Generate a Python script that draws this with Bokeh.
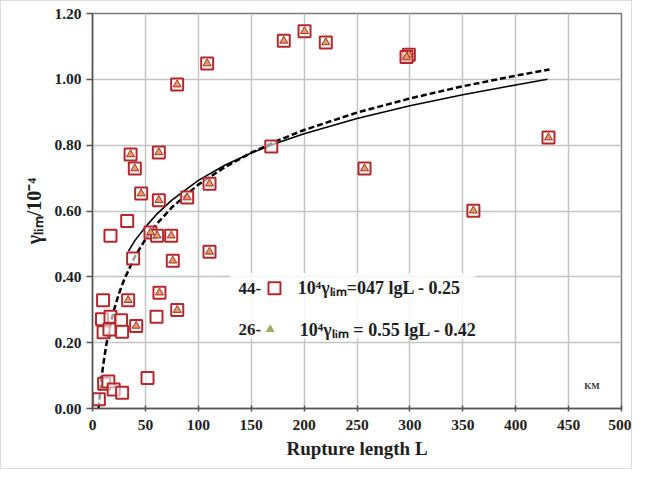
from bokeh.plotting import figure
from bokeh.models import Label, Range1d, FixedTicker, BoxAnnotation
from bokeh.embed import file_html
from bokeh.resources import INLINE

# ---- data ----
# series "44" : all squares (L, gamma_lim/1e-4)
sq_L = [6, 11, 15, 20, 28, 52,
        9, 17, 27, 10.5, 16, 28,
        10, 60.5, 38.4, 17, 32.8, 169,
        36, 62.7, 40, 46, 62.7, 54.8, 61.1, 74.4, 75.9, 110.6, 89.5, 110.6,
        33.7, 63.3, 80.1, 41.3, 108.4, 80, 180.8, 200.4, 220.5, 299, 296.8,
        257.1, 431, 360]
sq_y = [0.028, 0.075, 0.082, 0.058, 0.048, 0.093,
        0.271, 0.279, 0.268, 0.232, 0.240, 0.233,
        0.329, 0.279, 0.456, 0.525, 0.570, 0.796,
        0.772, 0.778, 0.729, 0.653, 0.633, 0.535, 0.525, 0.525, 0.449, 0.476, 0.641, 0.683,
        0.329, 0.352, 0.299, 0.251, 1.048, 0.984, 1.117, 1.146, 1.112, 1.075, 1.068,
        0.729, 0.823, 0.601]
# series "26" : triangles
tri_L = [36, 62.7, 40, 46, 62.7, 54.8, 61.1, 74.4, 75.9, 110.6, 89.5, 110.6,
         33.7, 63.3, 80.1, 41.3, 108.4, 80, 180.8, 200.4, 220.5, 299, 296.8,
         257.1, 431, 360]
tri_y = [0.772, 0.778, 0.729, 0.653, 0.633, 0.535, 0.525, 0.525, 0.449, 0.476, 0.641, 0.683,
         0.329, 0.352, 0.299, 0.251, 1.048, 0.984, 1.117, 1.146, 1.112, 1.075, 1.068,
         0.729, 0.823, 0.601]

# fitted curves
fit44_L = [34, 40, 50, 60, 75, 100, 125, 150, 175, 200, 250, 300, 350, 400, 430]
fit44_y = [0.478, 0.510, 0.551, 0.588, 0.633, 0.693, 0.739, 0.776, 0.807, 0.835, 0.881,
           0.920, 0.953, 0.983, 1.000]
fit26_L = [5.7, 8, 10, 13, 16, 20, 25, 30, 40, 50, 60, 75, 100, 125, 150, 175, 200, 250,
           300, 350, 400, 432]
fit26_y = [0.0, 0.077, 0.130, 0.193, 0.242, 0.296, 0.349, 0.392, 0.461, 0.514, 0.558,
           0.611, 0.680, 0.733, 0.777, 0.814, 0.846, 0.899, 0.942, 0.979, 1.011, 1.030]

x_ticks = [0, 50, 100, 150, 200, 250, 300, 350, 400, 450, 500]
y_ticks = [0.0, 0.2, 0.4, 0.6, 0.8, 1.0, 1.2]
y_tick_labels = ["0.00", "0.20", "0.40", "0.60", "0.80", "1.00", "1.20"]

legend_counts = ["44-", "26-"]
legend_texts = ["10\u2074\u03b3\u2097\u1d62\u2098=047 lgL - 0.25",
                "10\u2074\u03b3\u2097\u1d62\u2098 = 0.55 lgL - 0.42"]

FONT = "Liberation Serif"
RED = "#b3282d"

p = figure(width=632, height=469, x_range=Range1d(0, 500), y_range=Range1d(0, 1.2),
           output_backend="svg", toolbar_location=None,
           min_border_left=91, min_border_right=12, min_border_top=12, min_border_bottom=62)
p.styles = {"border": "1px solid #dcdcdc"}
p.background_fill_color = "white"
p.border_fill_color = "white"
p.outline_line_color = "#7a7a7a"
p.outline_line_width = 1.5

p.xaxis.ticker = FixedTicker(ticks=x_ticks)
p.yaxis.ticker = FixedTicker(ticks=y_ticks)
p.yaxis.major_label_overrides = {t: l for t, l in zip(y_ticks, y_tick_labels)}
for ax in (p.xaxis[0], p.yaxis[0]):
    ax.major_label_text_font = FONT
    ax.major_label_text_font_style = "bold"
    ax.major_label_text_font_size = "15.5px"
    ax.major_label_text_color = "#1e1e1e"
    ax.axis_label_text_font = FONT
    ax.axis_label_text_font_style = "bold"
    ax.axis_label_text_font_size = "19px"
    ax.axis_label_text_color = "#1e1e1e"
    ax.axis_line_color = "#555555"
    ax.axis_line_width = 1.5
    ax.major_tick_line_color = "#555555"
    ax.major_tick_line_width = 1.5
    ax.minor_tick_line_color = None
p.yaxis.axis_label_text_font_size = "20px"
p.xaxis.major_tick_in = 3
p.xaxis.major_tick_out = 3
p.yaxis.major_tick_in = 0
p.yaxis.major_tick_out = 6
p.xaxis.major_label_standoff = 8
p.yaxis.major_label_standoff = 5
p.xaxis.axis_label = "Rupture length L"
p.yaxis.axis_label = "\u03b3\u2097\u1d62\u2098/10\u207b\u2074"
p.xaxis.axis_label_standoff = 5
p.yaxis.axis_label_standoff = 6

p.xgrid.grid_line_color = "#c4c4c4"
p.ygrid.grid_line_color = "#c4c4c4"
p.xgrid.grid_line_width = 1.5
p.ygrid.grid_line_width = 1.5

# legend background
p.add_layout(BoxAnnotation(left=130, right=362, bottom=0.212, top=0.412,
                           fill_color="white", fill_alpha=0.85, line_color=None,
                           level="underlay"))

# curves
p.line(fit26_L, fit26_y, line_color="black", line_width=2.5, line_dash="6 3")
p.line(fit44_L, fit44_y, line_color="black", line_width=1.6)

# points
p.scatter(sq_L, sq_y, marker="square", size=12, line_color=RED, line_width=2,
          fill_color="white", fill_alpha=0.6)
p.scatter(tri_L, tri_y, marker="triangle", size=8, line_color=RED, line_width=1,
          fill_color="#dba25e")

# legend (drawn by hand)
rows_y = [0.365, 0.24]
sw_x = [172, 168]
txt_x = [194, 196]
for i in range(2):
    p.add_layout(Label(x=138, y=rows_y[i], text=legend_counts[i], text_baseline="middle",
                       text_font=FONT, text_font_style="bold", text_font_size="17px",
                       text_color="#1e1e1e"))
    p.add_layout(Label(x=txt_x[i], y=rows_y[i], text=legend_texts[i], text_baseline="middle",
                       text_font=FONT, text_font_style="bold", text_font_size="18px",
                       text_color="#1e1e1e"))
p.scatter([sw_x[0]], [rows_y[0]], marker="square", size=12, line_color=RED, line_width=2,
          fill_color="white")
p.scatter([sw_x[1]], [rows_y[1]], marker="triangle", size=9, line_color=None,
          fill_color="#9cae5c")

p.add_layout(Label(x=472, y=0.068, text="KM", text_align="center", text_baseline="middle",
                   text_font=FONT, text_font_style="bold", text_font_size="9px",
                   text_color="#333333"))

open("out.html", "w").write(file_html(p, INLINE))
